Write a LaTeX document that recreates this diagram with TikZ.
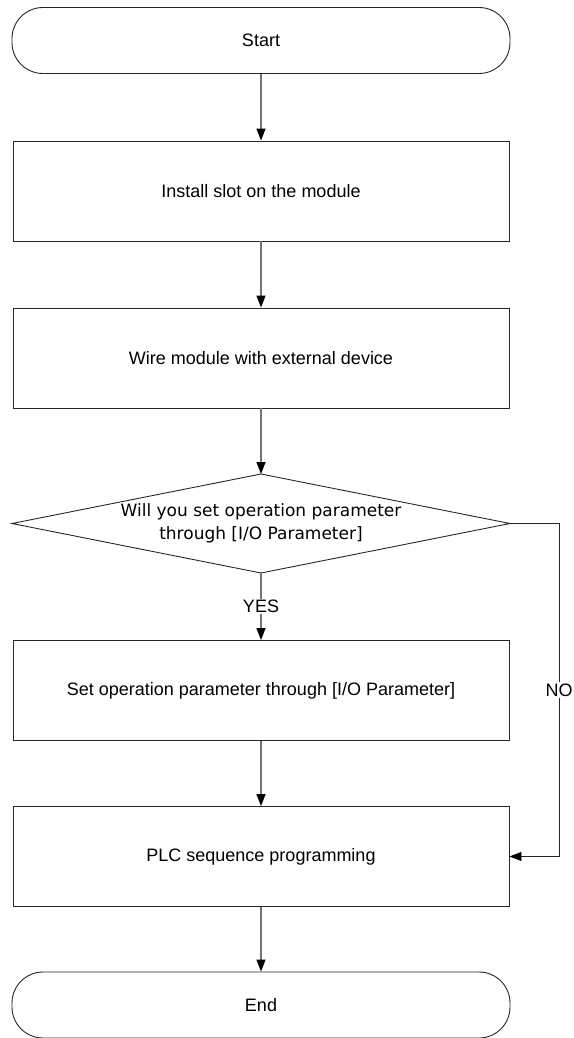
\documentclass[tikz,border=0pt]{standalone}
\usepackage{fontspec}
\setmainfont{Liberation Sans}
\newfontfamily\qfont{DejaVu Sans}
\usetikzlibrary{arrows.meta}
\begin{document}
\begin{tikzpicture}[x=1pt,y=-1pt,
  box/.style={draw=black!85,line width=0.9pt,rectangle,minimum width=496pt,minimum height=100pt,inner sep=0pt,font=\fontsize{18}{22}\selectfont},
  term/.style={draw=black!85,line width=0.9pt,rectangle,rounded corners=31pt,minimum width=498pt,minimum height=66pt,inner sep=0pt,font=\fontsize{18}{22}\selectfont},
  dline/.style={draw=black!85,line width=0.9pt},
  qtext/.style={inner sep=0pt,font=\qfont\fontsize{17}{23}\selectfont,align=center},
  conn/.style={draw=black!55,line width=1.4pt,-{Triangle[width=9pt,length=12pt,color=black]}},
  lab/.style={fill=white,inner sep=1.5pt,font=\fontsize{18}{22}\selectfont}]
\useasboundingbox (0,0) rectangle (573,1038);
\node[term] (start) at (261,40.5) {Start};
\node[box] (b1) at (261,191) {Install slot on the module};
\node[box] (b2) at (261,358) {Wire module with external device};
\coordinate (dt) at (261,474);
\coordinate (db) at (261,573);
\coordinate (dw) at (12,523.5);
\coordinate (de) at (510,523.5);
\draw[dline] (dt) -- (de) -- (db) -- (dw) -- cycle;
\node[qtext] (d) at (261,523.5) {Will you set operation parameter\\through [I/O Parameter]};
\node[box] (b3) at (261,690.5) {Set operation parameter through [I/O Parameter]};
\node[box] (b4) at (261,856.5) {PLC sequence programming};
\node[term] (end) at (261,1005) {End};
\coordinate (c1) at (559,523.5);
\coordinate (c2) at (559,856.5);
\draw[conn] (start) -- (b1);
\draw[conn] (b1) -- (b2);
\draw[conn] (b2) -- (dt);
\draw[conn] (db) -- node[lab] {YES} (b3);
\draw[conn] (b3) -- (b4);
\draw[conn] (b4) -- (end);
\draw[dline] (de) -- (c1) -- node[lab] {NO} (c2);
\draw[dline,-{Triangle[width=9pt,length=12pt,color=black]}] (c2) -- (b4.east);
\end{tikzpicture}
\end{document}
